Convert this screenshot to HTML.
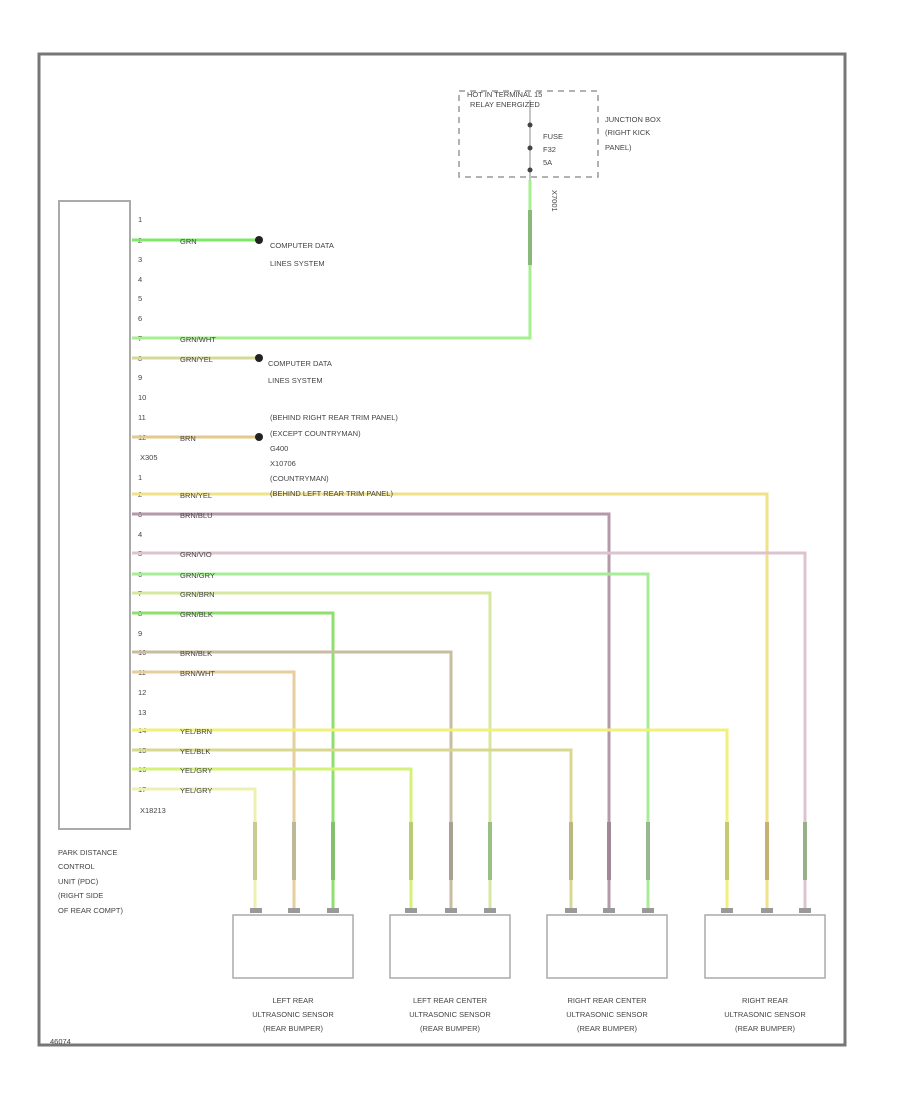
<!DOCTYPE html>
<html><head><meta charset="utf-8"><style>
html,body{margin:0;padding:0;background:#fff;}
svg{display:block;}
text{font-family:"Liberation Sans",sans-serif;font-size:7.5px;fill:#444;}
</style></head><body>
<svg width="900" height="1100" viewBox="0 0 900 1100" xmlns="http://www.w3.org/2000/svg">
<rect x="39" y="54" width="806" height="991" fill="none" stroke="#777" stroke-width="3"/>
<rect x="59" y="201" width="71" height="628" fill="none" stroke="#aaa" stroke-width="2"/>
<!-- pin numbers -->
<g fill="#888">
<text x="138" y="222">1</text><text x="138" y="243">2</text><text x="138" y="262">3</text><text x="138" y="282">4</text>
<text x="138" y="301">5</text><text x="138" y="321">6</text><text x="138" y="341">7</text><text x="138" y="361">8</text>
<text x="138" y="380">9</text><text x="138" y="400">10</text><text x="138" y="420">11</text><text x="138" y="440">12</text>
<text x="140" y="460">X305</text>
<text x="138" y="480">1</text><text x="138" y="497">2</text><text x="138" y="517">3</text><text x="138" y="537">4</text>
<text x="138" y="556">5</text><text x="138" y="577">6</text><text x="138" y="596">7</text><text x="138" y="616">8</text>
<text x="138" y="636">9</text><text x="138" y="655">10</text><text x="138" y="675">11</text><text x="138" y="695">12</text>
<text x="138" y="715">13</text><text x="138" y="733">14</text><text x="138" y="753">15</text><text x="138" y="772">16</text>
<text x="138" y="792">17</text><text x="140" y="813">X18213</text>
</g>
<g fill="none" stroke-width="3">
<!-- upper -->
<path d="M132 240H258" stroke="#7de86a"/>
<path d="M132 338H530V180" stroke="#a6ee8e"/>
<path d="M132 358H258" stroke="#d6d89a"/>
<path d="M132 437H258" stroke="#e3c98e"/>
<!-- sensor wires -->
<path d="M132 494H767V910" stroke="#efe28a"/>
<path d="M132 514H609V910" stroke="#b39aa8"/>
<path d="M132 553H805V910" stroke="#dcc3cf"/>
<path d="M132 574H648V910" stroke="#a8ec98"/>
<path d="M132 593H490V910" stroke="#d6e8a0"/>
<path d="M132 613H333V910" stroke="#8ee06e"/>
<path d="M132 652H451V910" stroke="#c8bda0"/>
<path d="M132 672H294V910" stroke="#e6cf9e"/>
<path d="M132 730H727V910" stroke="#f0f07a"/>
<path d="M132 750H571V910" stroke="#d8d890"/>
<path d="M132 769H411V910" stroke="#d4f27a"/>
<path d="M132 789H255V910" stroke="#eef0b0"/>
</g>
<g fill="#222"><circle cx="259" cy="240" r="4"/><circle cx="259" cy="358" r="4"/><circle cx="259" cy="437" r="4"/></g>
<!-- wire labels -->
<g fill="#999" font-size="7">
<text x="180" y="244">GRN</text><text x="180" y="342">GRN/WHT</text><text x="180" y="362">GRN/YEL</text>
<text x="180" y="441">BRN</text><text x="180" y="498">BRN/YEL</text><text x="180" y="518">BRN/BLU</text>
<text x="180" y="557">GRN/VIO</text><text x="180" y="578">GRN/GRY</text><text x="180" y="597">GRN/BRN</text>
<text x="180" y="617">GRN/BLK</text><text x="180" y="656">BRN/BLK</text><text x="180" y="676">BRN/WHT</text>
<text x="180" y="734">YEL/BRN</text><text x="180" y="754">YEL/BLK</text><text x="180" y="773">YEL/GRY</text><text x="180" y="793">YEL/GRY</text>
</g>
<text x="270" y="248">COMPUTER DATA</text><text x="270" y="266">LINES SYSTEM</text>
<text x="268" y="366">COMPUTER DATA</text><text x="268" y="383">LINES SYSTEM</text>
<text x="270" y="420">(BEHIND RIGHT REAR TRIM PANEL)</text>
<text x="270" y="436">(EXCEPT COUNTRYMAN)</text>
<text x="270" y="451">G400</text><text x="270" y="466">X10706</text>
<text x="270" y="481">(COUNTRYMAN)</text>
<text x="270" y="496">(BEHIND LEFT REAR TRIM PANEL)</text>
<!-- junction box -->
<rect x="459" y="91" width="139" height="86" fill="none" stroke="#999" stroke-width="1.5" stroke-dasharray="6,5"/>
<path d="M530 100V180" stroke="#888" stroke-width="1"/>
<g fill="#444"><circle cx="530" cy="125" r="2.5"/><circle cx="530" cy="148" r="2.5"/><circle cx="530" cy="170" r="2.5"/></g>
<text x="467" y="97">HOT IN TERMINAL 15</text><text x="470" y="107">RELAY ENERGIZED</text>
<text x="543" y="139">FUSE</text><text x="543" y="152">F32</text><text x="543" y="165">5A</text>
<text x="605" y="122">JUNCTION BOX</text><text x="605" y="135">(RIGHT KICK</text><text x="605" y="150">PANEL)</text>
<path d="M530 210V265" stroke="#8ab87a" stroke-width="4"/>
<text transform="translate(552,190) rotate(90)" font-size="7">X7001</text>
<!-- vertical label blobs -->
<g stroke-width="4">
<path d="M255 822V880" stroke="#c8cc90"/><path d="M294 822V880" stroke="#bdb898"/><path d="M333 822V880" stroke="#84c070"/>
<path d="M411 822V880" stroke="#b8cc70"/><path d="M451 822V880" stroke="#a8a090"/><path d="M490 822V880" stroke="#98c080"/>
<path d="M571 822V880" stroke="#b8b880"/><path d="M609 822V880" stroke="#a08898"/><path d="M648 822V880" stroke="#98b890"/>
<path d="M727 822V880" stroke="#c8c870"/><path d="M767 822V880" stroke="#c8b070"/><path d="M805 822V880" stroke="#98b088"/>
</g>
<!-- sensors -->
<g fill="none" stroke="#aaa" stroke-width="1.5">
<rect x="233" y="915" width="120" height="63"/><rect x="390" y="915" width="120" height="63"/>
<rect x="547" y="915" width="120" height="63"/><rect x="705" y="915" width="120" height="63"/>
</g>
<g fill="#999">
<rect x="250" y="908" width="12" height="5"/><rect x="288" y="908" width="12" height="5"/><rect x="327" y="908" width="12" height="5"/>
<rect x="405" y="908" width="12" height="5"/><rect x="445" y="908" width="12" height="5"/><rect x="484" y="908" width="12" height="5"/>
<rect x="565" y="908" width="12" height="5"/><rect x="603" y="908" width="12" height="5"/><rect x="642" y="908" width="12" height="5"/>
<rect x="721" y="908" width="12" height="5"/><rect x="761" y="908" width="12" height="5"/><rect x="799" y="908" width="12" height="5"/>
</g>
<g text-anchor="middle">
<text x="293" y="1003">LEFT REAR</text><text x="293" y="1017">ULTRASONIC SENSOR</text><text x="293" y="1031">(REAR BUMPER)</text>
<text x="450" y="1003">LEFT REAR CENTER</text><text x="450" y="1017">ULTRASONIC SENSOR</text><text x="450" y="1031">(REAR BUMPER)</text>
<text x="607" y="1003">RIGHT REAR CENTER</text><text x="607" y="1017">ULTRASONIC SENSOR</text><text x="607" y="1031">(REAR BUMPER)</text>
<text x="765" y="1003">RIGHT REAR</text><text x="765" y="1017">ULTRASONIC SENSOR</text><text x="765" y="1031">(REAR BUMPER)</text>
</g>
<text x="58" y="855">PARK DISTANCE</text><text x="58" y="869">CONTROL</text><text x="58" y="884">UNIT (PDC)</text>
<text x="58" y="898">(RIGHT SIDE</text><text x="58" y="913">OF REAR COMPT)</text>
<text x="50" y="1044" font-size="7">46074</text>
</svg>
</body></html>
